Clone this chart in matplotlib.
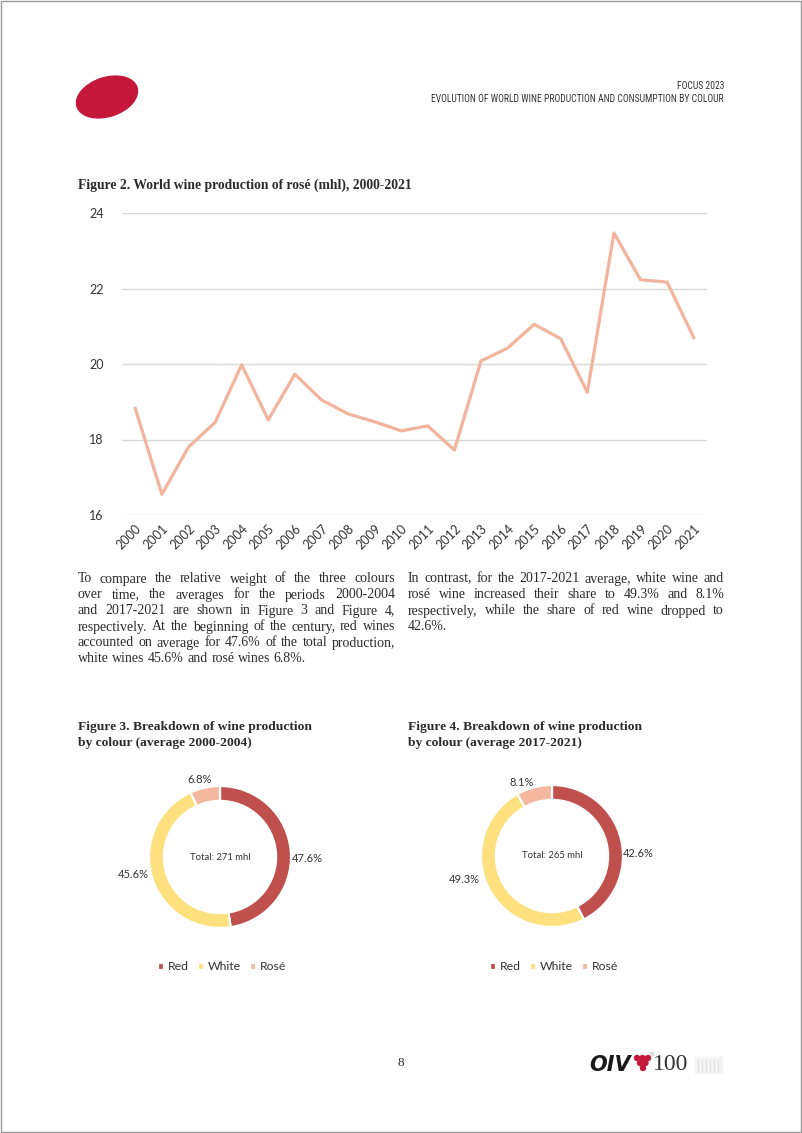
import matplotlib
matplotlib.use("Agg")
import matplotlib.pyplot as plt
from matplotlib.patches import Ellipse, Rectangle

# ---------------- data ----------------
years = [str(y) for y in range(2000, 2022)]
rose_mhl = [18.82, 16.55, 17.80, 18.45, 19.98, 18.52, 19.73, 19.05, 18.68, 18.47, 18.23,
            18.36, 17.72, 20.08, 20.42, 21.05, 20.67, 19.25, 23.47, 22.23, 22.17, 20.70]
y_ticks = [16, 18, 20, 22, 24]

colours = ["Red", "White", "Rosé"]
share_2000_2004 = [47.6, 45.6, 6.8]
share_2017_2021 = [42.6, 49.3, 8.1]
total_2000_2004 = "Total: 271 mhl"
total_2017_2021 = "Total: 265 mhl"

left_lines = [
    "To compare the relative weight of the three colours",
    "over time, the averages for the periods 2000-2004",
    "and 2017-2021 are shown in Figure 3 and Figure 4,",
    "respectively. At the beginning of the century, red wines",
    "accounted on average for 47.6% of the total production,",
    "white wines 45.6% and rosé wines 6.8%.",
]
right_lines = [
    "In contrast, for the 2017-2021 average, white wine and",
    "rosé wine increased their share to 49.3% and 8.1%",
    "respectively, while the share of red wine dropped to",
    "42.6%.",
]

# ---------------- styles ----------------
W, H = 802, 1133
SERIF = ["Liberation Serif", "DejaVu Serif"]
SANS = ["Lato", "DejaVu Sans"]
NARROW = ["Roboto Condensed", "Liberation Sans Narrow", "Roboto", "DejaVu Sans"]
ROSE = "#F2B49C"
PIE_COLS = ["#C0504D", "#FFE07F", "#F4B8A0"]
TXT = "#2b2b2b"

fig = plt.figure(figsize=(W / 100, H / 100), dpi=100)
fig.patch.set_facecolor("white")


def px_axes(l, t, r, b):
    return fig.add_axes([l / W, 1 - b / H, (r - l) / W, (b - t) / H])


bg = fig.add_axes([0, 0, 1, 1])
bg.set_xlim(0, W)
bg.set_ylim(H, 0)
bg.axis("off")
bg.set_zorder(-1)
renderer = fig.canvas.get_renderer()

# page border
bg.add_patch(Rectangle((0.5, 0.5), W - 1.5, H - 1.5, fill=False, ec="#9a9a9a", lw=1))

# header
bg.add_patch(Ellipse((107, 97), 63, 39, angle=-18, color="#C4173A"))


def fit_text(x, y, s, target_w, size, **kw):
    t = bg.text(x, y, s, fontsize=size, **kw)
    w = t.get_window_extent(renderer).width
    if w > target_w:
        t.set_fontsize(size * target_w / w)
    return t


h1 = fit_text(724, 86, "FOCUS 2023", 52, 9, ha="right", va="center", family=NARROW,
              fontstretch="condensed", color="#333333")
h2 = fit_text(724, 99, "EVOLUTION OF WORLD WINE PRODUCTION AND CONSUMPTION BY COLOUR", 294, 9,
              ha="right", va="center", family=NARROW, fontstretch="condensed", color="#333333")
h1.set_fontsize(h2.get_fontsize())

# figure 2 title
bg.text(78, 185, "Figure 2. World wine production of rosé (mhl), 2000-2021", ha="left", va="center",
        family=SERIF, fontweight="bold", fontsize=9.8, color=TXT)

# ---------------- line chart ----------------
ax = px_axes(122, 213, 707, 515)
ax.set_facecolor("none")
x = list(range(len(years)))
ax.plot(x, rose_mhl, color=ROSE, lw=2.3, zorder=3)
ax.set_xlim(-0.5, len(years) - 0.5)
ax.set_ylim(16, 24)
ax.set_yticks(y_ticks)
ax.set_yticklabels([str(v) for v in y_ticks], family=SANS, fontsize=9, color="#333333")
ax.set_xticks(x)
ax.set_xticklabels(years, rotation=45, ha="right", rotation_mode="anchor",
                   family=SANS, fontsize=9, color="#333333")
ax.tick_params(axis="y", length=0, pad=13)
ax.tick_params(axis="x", length=0, pad=5)
ax.grid(axis="y", color="#D9D9D9", lw=1)
ax.set_axisbelow(True)
for s in ax.spines.values():
    s.set_visible(False)

# ---------------- justified text ----------------
def text_width(s, **kw):
    t = bg.text(0, 0, s, **kw)
    w = t.get_window_extent(renderer).width
    t.remove()
    return w


def justify(lines, x0, x1, y0, dy, **kw):
    space = text_width("a a", **kw) - text_width("aa", **kw)
    for i, line in enumerate(lines):
        words = line.split()
        y = y0 + i * dy
        ts = [bg.text(0, y, w, ha="left", va="center", **kw) for w in words]
        ws = [t.get_window_extent(renderer).width for t in ts]
        if i == len(lines) - 1 or len(words) == 1:
            gap = space
        else:
            gap = (x1 - x0 - sum(ws)) / (len(words) - 1)
        xx = x0
        for t, w in zip(ts, ws):
            t.set_x(xx)
            xx += w + gap


body_kw = dict(family=SERIF, fontsize=10, color=TXT)
justify(left_lines, 78, 395, 579, 16, **body_kw)
justify(right_lines, 408, 724, 579, 16, **body_kw)

# ---------------- donuts ----------------
R_PX = 71.0


def donut(cx, cy, shares, total, title_x, title_lines, label_shift, legend_cx):
    for k, tl in enumerate(title_lines):
        bg.text(title_x, 727 + 16 * k, tl, ha="left", va="center", family=SERIF,
                fontweight="bold", fontsize=9.7, color=TXT)
    half = 100
    a = px_axes(cx - half, cy - half, cx + half, cy + half)
    a.set_facecolor("none")
    wedges, _, autos = a.pie(shares, colors=PIE_COLS, startangle=90, counterclock=False,
                             radius=1, autopct=lambda p: f"{p:.1f}%", pctdistance=1.24,
                             wedgeprops=dict(width=0.21, edgecolor="white", linewidth=1.6),
                             textprops=dict(family=SANS, fontsize=8, color="#333333"))
    for t, (dx, dy) in zip(autos, label_shift):
        px, py = t.get_position()
        t.set_position((px + dx / R_PX, py - dy / R_PX))
    lim = half / R_PX
    a.set_xlim(-lim, lim)
    a.set_ylim(-lim, lim)
    a.set_aspect("equal")
    a.axis("off")
    a.text(0, 0, total, ha="center", va="center", family=SANS, fontsize=6.8, color="#333333")
    fig.legend(wedges, colours, loc="center", bbox_to_anchor=(legend_cx / W, 1 - 967 / H),
               ncol=3, frameon=False, handlelength=0.5, handleheight=0.5, handletextpad=0.35,
               columnspacing=0.7, prop=dict(family=SANS, size=8.8), labelcolor="#333333")


donut(220, 857, share_2000_2004, total_2000_2004, 78,
      ["Figure 3. Breakdown of wine production", "by colour (average 2000-2004)"],
      [(0, 8), (-2, -8), (-2, 9)], 222)
donut(552, 856, share_2017_2021, total_2017_2021, 408,
      ["Figure 4. Breakdown of wine production", "by colour (average 2017-2021)"],
      [(1, 18), (-10, -18), (-8, 12)], 554)

# ---------------- footer ----------------
bg.text(401, 1063, "8", ha="center", va="center", family=SERIF, fontsize=9.5, color=TXT)
bg.text(610, 1065, "OIV", ha="center", va="center", family=["DejaVu Sans"], fontweight="bold",
        fontstyle="italic", fontsize=15, color="#1a1a1a")
for gx, gy in [(637, 1058), (642.5, 1058), (648, 1058), (640, 1063), (645.5, 1063), (643, 1068)]:
    bg.add_patch(Ellipse((gx, gy), 5, 5, color="#C4173A"))
bg.add_patch(Ellipse((652, 1054), 4, 3, color="#dddddd"))
bg.text(671, 1065, "100", ha="center", va="center", family=SERIF, fontsize=17, color="#333333")
bg.add_patch(Rectangle((695, 1057), 27, 16, color="#f3f3f3"))
for lx in range(698, 722, 4):
    bg.plot([lx, lx], [1060, 1072], color="#e2e2e2", lw=0.8)

fig.savefig("out.png", dpi=100)
